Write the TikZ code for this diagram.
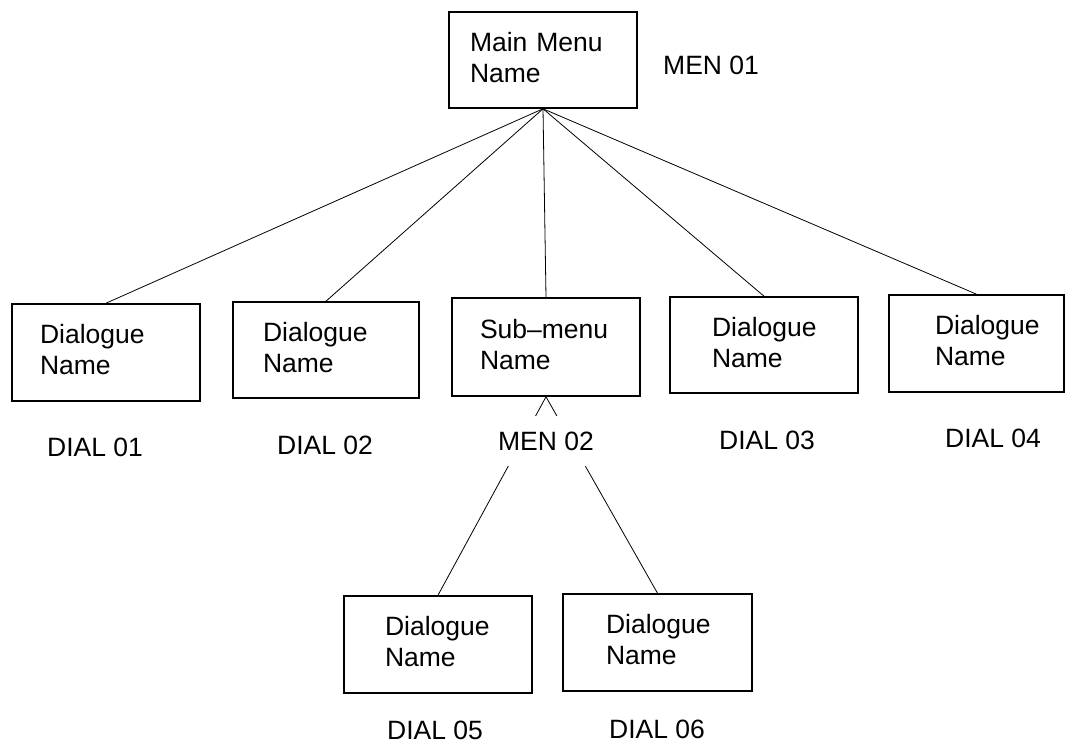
\documentclass[tikz,border=0pt]{standalone}
\usepackage{fontspec}
\setmainfont{Liberation Sans}
% invisible depth on the last line lifts the two text lines a little
\newcommand{\belowpad}{\rule[-6pt]{0pt}{6pt}}
\begin{document}
\begin{tikzpicture}[x=1pt,y=-1pt,
  box/.style={draw, line width=1.6pt, rectangle, align=left,
    font=\fontsize{26.5}{31}\selectfont, inner ysep=0pt},
  tag/.style={font=\fontsize{26.5}{31}\selectfont, inner sep=0pt},
  link/.style={line width=0.8pt}]
\useasboundingbox (0,0) rectangle (1066,743);

% menu and dialogue boxes
\node[box, inner xsep=21pt, text width=146pt, minimum height=96pt] (main) at (543,60) {Main Menu\\Name\belowpad};
\node[box, inner xsep=28pt, text width=132pt, minimum height=97pt] (d1) at (106,352.5) {Dialogue\\Name\belowpad};
\node[box, inner xsep=30pt, text width=126pt, minimum height=96pt] (d2) at (326,350) {Dialogue\\Name\belowpad};
\node[box, inner xsep=28pt, text width=132pt, minimum height=98pt] (sub) at (546,347) {Sub--menu\\Name\belowpad};
\node[box, inner xsep=42pt, text width=104pt, minimum height=96pt] (d3) at (764,345) {Dialogue\\Name\belowpad};
\node[box, inner xsep=46pt, text width=83pt, minimum height=97pt] (d4) at (976.5,343.5) {Dialogue\\Name\belowpad};
\node[box, inner xsep=41pt, text width=106pt, minimum height=97pt] (d5) at (438,644.5) {Dialogue\\Name\belowpad};
\node[box, inner xsep=43pt, text width=103pt, minimum height=97pt] (d6) at (657.5,642.5) {Dialogue\\Name\belowpad};

% hierarchy links
\draw[link] (main.south) -- (d1.north);
\draw[link] (main.south) -- (d2.north);
\draw[link] (main.south) -- (sub.north);
\draw[link] (main.south) -- (d3.north);
\draw[link] (main.south) -- (d4.north);
\draw[link] (sub.south) -- (d5.north);
\draw[link] (sub.south) -- (d6.north);

% identifiers
\node[tag, anchor=west] (men1) at (663,65) {MEN 01};
\node[tag] (dial1) at (95,447) {DIAL 01};
\node[tag] (dial2) at (325,445) {DIAL 02};
\node[tag, fill=white, inner xsep=2pt, minimum height=50pt] (men2) at (546,441) {MEN 02};
\node[tag] (dial3) at (767,440) {DIAL 03};
\node[tag] (dial4) at (993,438) {DIAL 04};
\node[tag] (dial5) at (435,730) {DIAL 05};
\node[tag] (dial6) at (657,729) {DIAL 06};
\end{tikzpicture}
\end{document}
